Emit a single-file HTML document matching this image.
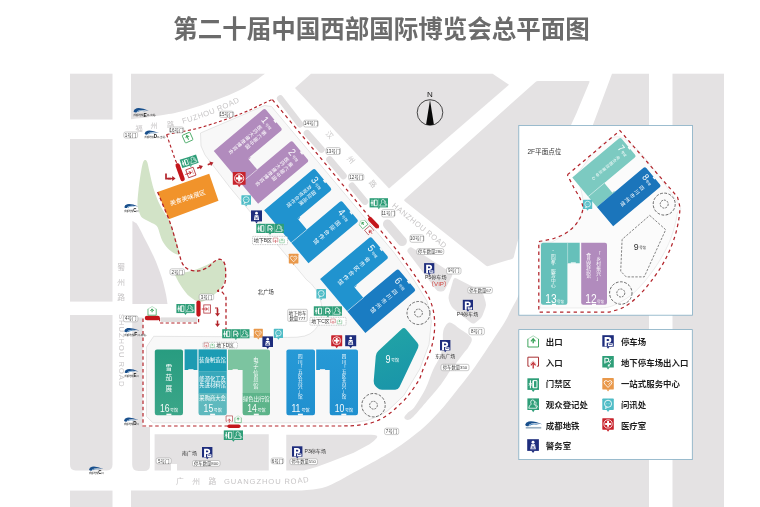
<!DOCTYPE html>
<html lang="zh"><head><meta charset="utf-8"><title>第二十届中国西部国际博览会总平面图</title>
<style>
html,body{margin:0;padding:0;background:#fff;}
body{width:760px;height:507px;overflow:hidden;font-family:"Liberation Sans","Noto Sans CJK SC",sans-serif;}
svg{display:block;will-change:transform}
svg text{font-family:"Liberation Sans","Noto Sans CJK SC",sans-serif;}
</style></head><body>
<svg width="760" height="507" viewBox="0 0 760 507">
<rect x="0.0" y="0.0" width="760.0" height="507.0" rx="0" fill="#fff" />
<rect x="70.0" y="73.7" width="42.5" height="45.8" rx="0" fill="#e4e2e3" />
<rect x="70.0" y="139.0" width="42.5" height="162.6" rx="0" fill="#e4e2e3" />
<path d="M70 315H112.5V464.8Q112.5 470.4 106.9 470.4H75.6Q70 470.4 70 464.8Z" fill="#e4e2e3" stroke="none" stroke-width="1" />
<rect x="70.0" y="490.6" width="42.5" height="20.0" rx="0" fill="#e4e2e3" />
<path d="M131 73.7H265C263.3 74.9 259.2 78.3 255.0 81.0C250.8 83.7 246.7 86.8 240.0 90.0C233.3 93.2 224.5 97.0 215.0 100.5C205.5 104.0 192.2 108.5 183.0 111.0C173.8 113.5 168.7 114.1 160.0 115.5C151.3 116.9 135.8 118.6 131.0 119.2Z" fill="#e4e2e3" stroke="none" stroke-width="1" />
<polygon points="311.0,73.7 492.6,73.7 509.0,84.7 389.0,188.5 295.0,88.0" fill="#e4e2e3" />
<path d="M404.8 201.2Q403.6 200.3 404.7 199.3L535.5 81.9Q536.6 80.9 538.1 80.9L588.5 80.9Q590.0 80.9 589.4 82.3L578.0 109.6Q577.4 111.0 576.8 112.4L518.2 240.1Q517.6 241.5 517.2 243.0L513.8 257.1Q513.4 258.6 512.0 259.0L488.4 266.1Q487.0 266.5 485.8 265.6Z" fill="#e4e2e3" stroke="none" stroke-width="1" />
<path d="M612 73.7H649V508H131V490.6H300C303.7 490.2 315.3 489.7 322.0 488.0C328.7 486.3 334.7 482.8 340.0 480.2C345.3 477.6 347.5 476.0 353.7 472.6C359.9 469.2 370.8 463.4 377.4 459.7C384.0 456.0 387.9 453.7 393.2 450.3C398.5 446.9 403.8 443.1 409.0 439.2C414.2 435.2 418.9 432.0 424.7 426.6C430.4 421.2 437.8 413.5 443.5 407.0C449.2 400.5 453.7 394.4 459.0 387.6C464.3 380.8 469.5 374.3 475.2 366.4C480.9 358.5 488.1 347.3 493.0 340.0C497.9 332.7 501.6 327.3 504.5 322.5C507.4 317.7 508.5 314.8 510.5 311.0C512.5 307.2 515.5 301.8 516.5 300.0L592.6 125.7Z" fill="#e4e2e3" stroke="none" stroke-width="1" />
<rect x="672.5" y="73.7" width="51.5" height="434.3" rx="0" fill="#e4e2e3" />
<path d="M132.4 221.0C132.8 221.2 134.1 221.8 135.0 222.5C135.9 223.2 136.1 222.4 137.9 225.5C139.7 228.6 143.2 235.6 145.8 240.8C148.4 246.0 151.7 252.2 153.7 256.6C155.7 261.0 156.7 263.6 158.0 267.0C159.3 270.4 160.5 273.7 161.6 277.0C162.7 280.3 163.5 283.8 164.3 287.0C165.1 290.2 165.8 293.2 166.3 296.0C166.8 298.8 167.3 302.7 167.5 304.0L132.4 304Z" fill="#e3dfe2" stroke="none" stroke-width="1" />
<path d="M132.2 317.4H142.6V427H150V465Q150 471 144 471H138.4Q132.2 471 132.2 464.8Z" fill="#e4e2e3" stroke="none" stroke-width="1" />
<rect x="160.8" y="317.4" width="36.5" height="4.6" rx="0" fill="#e0dede" />
<path d="M154.6 434.3H268.75V470.5H177V463.9H171V470.5H154.6Z" fill="#e4e2e3" stroke="none" stroke-width="1" />
<path d="M286.25 434.8H371Q379 434.9 376.9 437.8Q373.5 442 369.5 444.2L353.7 452.8L330 462Q318 467 304 470.5H286.25Z" fill="#e4e2e3" stroke="none" stroke-width="1" />
<path d="M449.5 322.5C452.3 322.2 456.3 326.4 460.0 329.0C463.7 331.6 470.1 335.0 471.5 338.0C472.9 341.0 469.8 344.5 468.5 347.0C467.2 349.5 465.5 350.7 463.6 353.2C461.7 355.7 459.2 359.2 457.0 362.0C454.8 364.8 453.2 366.4 450.6 370.0C448.0 373.6 445.2 378.8 441.3 383.9C437.4 389.0 432.0 395.2 427.4 400.6C422.8 406.1 416.7 413.4 413.5 416.6C410.3 419.8 409.5 419.8 408.0 420.0C406.5 420.2 404.3 418.9 404.3 417.6C404.3 416.4 406.3 414.3 408.0 412.5C409.7 410.7 411.6 411.0 414.5 407.0C417.4 403.0 422.5 394.7 425.6 388.5C428.7 382.3 430.6 375.2 433.0 370.0C435.4 364.8 438.2 361.2 439.8 357.0C441.4 352.8 442.2 349.3 442.8 345.0C443.4 340.7 442.2 334.8 443.3 331.0C444.4 327.2 446.7 322.8 449.5 322.5Z" fill="#e4e2e3" stroke="none" stroke-width="1" />
<path d="M408.0 252.5Q406.5 250.5 408.3 248.7L408.7 248.3Q410.5 246.5 412.6 247.9L450.9 272.6Q453.0 274.0 451.9 276.2L445.1 289.3Q444.0 291.5 441.5 291.5L440.0 291.5Q437.5 291.5 436.0 289.5Z" fill="#e4e2e3" stroke="none" stroke-width="1" />
<path d="M453.2 279.9Q454.0 277.0 456.7 278.4L479.8 290.2Q482.5 291.6 483.4 294.5L485.6 302.1Q486.5 305.0 485.4 307.8L482.6 315.2Q481.5 318.0 479.1 319.8L475.4 322.7Q473.0 324.5 470.7 322.6L453.9 308.9Q451.6 307.0 450.4 304.2L449.2 301.3Q448.0 298.5 448.8 295.6Z" fill="#e4e2e3" stroke="none" stroke-width="1" />
<path d="M200.5 133.0L264.5 105.5L271.5 106.5L394.0 252.5L414.0 280.0L427.0 301.0L431.4 321.0L429.0 344.5L419.8 369.0L403.8 395.5L388.0 410.5L379.0 416.0L367.0 420.5L354.0 422.5L340.0 422.8L153.0 422.8L146.5 416.5L146.5 347.0L153.7 336.3L250.0 336.8L287.4 337.4L297.0 337.2L304.7 336.0L310.0 333.8L314.2 330.5L318.2 325.5L320.5 319.5L321.8 311.5L321.3 303.7L319.3 296.0L315.8 289.5L311.5 284.0L306.3 279.5L230.0 187.5L205.0 155.0L201.0 146.0Z" fill="#f8f8f8" stroke="#cfcfcf" stroke-width="0.5" />
<path d="M145.2 160.0C144.5 160.0 143.7 160.5 143.0 162.5C142.3 164.5 141.8 167.4 141.0 172.0C140.2 176.6 139.1 184.5 138.5 190.0C137.9 195.5 137.3 201.2 137.5 205.0C137.7 208.8 138.7 210.8 139.5 213.0C140.3 215.2 140.8 216.5 142.6 218.0C144.3 219.5 147.6 220.7 150.0 222.0C152.4 223.3 155.1 223.9 156.8 226.0C158.5 228.1 159.0 231.8 160.0 234.5C161.0 237.2 161.4 239.4 163.0 242.0C164.6 244.6 167.1 247.9 169.5 250.0C171.9 252.1 175.7 254.1 177.4 254.6C179.1 255.1 179.7 255.4 179.5 253.0C179.3 250.6 177.6 245.1 176.0 240.0C174.4 234.9 172.7 228.3 170.0 222.5C167.3 216.7 162.7 210.4 160.0 205.0C157.3 199.6 155.8 195.5 154.0 190.0C152.2 184.5 150.6 176.6 149.5 172.0C148.4 167.4 148.1 164.5 147.4 162.5C146.7 160.5 145.9 160.0 145.2 160.0Z" fill="#d2e3c7" stroke="none" stroke-width="1" />
<path d="M175.0 272.0C173.2 272.8 174.8 274.4 176.0 277.0C177.2 279.6 179.7 284.1 182.0 287.4C184.3 290.7 187.0 294.4 190.0 296.8C193.0 299.2 196.5 302.0 200.0 302.0C203.5 302.0 207.5 299.3 211.0 297.0C214.5 294.7 218.6 291.2 221.0 288.0C223.4 284.8 224.8 281.8 225.5 278.0C226.2 274.2 225.9 268.1 225.0 265.0C224.1 261.9 222.0 260.0 220.0 259.5C218.0 259.0 216.3 260.6 213.0 262.0C209.7 263.4 204.3 266.3 200.0 268.0C195.7 269.7 191.2 271.3 187.0 272.0C182.8 272.7 176.8 271.2 175.0 272.0Z" fill="#d2e3c7" stroke="none" stroke-width="1" />
<polygon points="157.6,191.9 209.2,173.8 218.5,200.8 168.8,219.3" fill="#f1932b" />
<text transform="translate(188.30 199.90) rotate(-18.4)" font-size="6.2" fill="#fff" text-anchor="middle">美食美味展区</text>
<g transform="translate(264.7 108.2) rotate(50)">
<path d="M2.4 0H25.400000000000002Q27.8 0 27.8 2.4V45.2H42.2V66.5H0V2.4Q0 0 2.4 0Z" fill="#b18bbd"/>
<path d="M42.2 2.4Q42.2 0 44.6 0H66.6Q69.0 0 69.0 2.4V66.5H42.2Z" fill="#b18bbd"/>
<path d="M42.2 45.2V66.5" stroke="#fff" stroke-width="0.45" opacity="0.85"/>
<rect x="15.0" y="-0.3" width="3.4" height="1.6" fill="#f8f8f8"/><rect x="56.2" y="-0.3" width="3.4" height="1.6" fill="#f8f8f8"/>
<rect x="27.900000000000002" y="42.6" width="0.9" height="2.7" fill="#b18bbd"/>
<text transform="translate(6.77 10.8) scale(0.88 1)" font-size="10.4" fill="#fff" opacity="0.96">1</text>
<text x="12.57" y="10.4" font-size="3.6" fill="#fff">号馆</text>
<text transform="translate(18.35 14.00)" font-size="4.9" fill="#fff" text-anchor="middle"><tspan x="0" y="4.31">第</tspan><tspan x="0" dy="5.3">六</tspan><tspan x="0" dy="5.3">届</tspan><tspan x="0" dy="5.3">中</tspan><tspan x="0" dy="5.3">国</tspan></text>
<text transform="translate(11.68 14.00)" font-size="4.9" fill="#fff" text-anchor="middle"><tspan x="0" y="4.31">医</tspan><tspan x="0" dy="5.3">药</tspan><tspan x="0" dy="5.3">大</tspan><tspan x="0" dy="5.3">健</tspan><tspan x="0" dy="5.3">康</tspan><tspan x="0" dy="5.3">博</tspan><tspan x="0" dy="5.3">览</tspan><tspan x="0" dy="5.3">会</tspan></text>
<text transform="translate(48.64 10.8) scale(0.88 1)" font-size="10.4" fill="#fff" opacity="0.96">2</text>
<text x="54.44" y="10.4" font-size="3.6" fill="#fff">号馆</text>
<text transform="translate(59.89 14.00)" font-size="4.9" fill="#fff" text-anchor="middle"><tspan x="0" y="4.31">第</tspan><tspan x="0" dy="5.3">六</tspan><tspan x="0" dy="5.3">届</tspan><tspan x="0" dy="5.3">中</tspan><tspan x="0" dy="5.3">国</tspan></text>
<text transform="translate(53.46 14.00)" font-size="4.9" fill="#fff" text-anchor="middle"><tspan x="0" y="4.31">医</tspan><tspan x="0" dy="5.3">药</tspan><tspan x="0" dy="5.3">大</tspan><tspan x="0" dy="5.3">健</tspan><tspan x="0" dy="5.3">康</tspan><tspan x="0" dy="5.3">博</tspan><tspan x="0" dy="5.3">览</tspan><tspan x="0" dy="5.3">会</tspan></text>
</g>
<g transform="translate(314.3 168.2) rotate(50)">
<path d="M2.4 0H25.400000000000002Q27.8 0 27.8 2.4V45.2H42.2V65.5H0V2.4Q0 0 2.4 0Z" fill="#2093cf"/>
<path d="M42.2 2.4Q42.2 0 44.6 0H66.6Q69.0 0 69.0 2.4V65.5H42.2Z" fill="#2093cf"/>
<path d="M42.2 45.2V65.5" stroke="#fff" stroke-width="0.45" opacity="0.85"/>
<rect x="15.0" y="-0.3" width="3.4" height="1.6" fill="#f8f8f8"/><rect x="56.2" y="-0.3" width="3.4" height="1.6" fill="#f8f8f8"/>
<rect x="27.900000000000002" y="42.6" width="0.9" height="2.7" fill="#2093cf"/>
<text transform="translate(6.77 10.8) scale(0.88 1)" font-size="10.4" fill="#fff" opacity="0.96">3</text>
<text x="12.57" y="10.4" font-size="3.6" fill="#fff">号馆</text>
<text transform="translate(18.35 14.00)" font-size="4.9" fill="#fff" text-anchor="middle"><tspan x="0" y="4.31">国</tspan><tspan x="0" dy="5.3">际</tspan><tspan x="0" dy="5.3">品</tspan><tspan x="0" dy="5.3">牌</tspan></text>
<text transform="translate(11.68 14.00)" font-size="4.9" fill="#fff" text-anchor="middle"><tspan x="0" y="4.31">及</tspan><tspan x="0" dy="5.3">投</tspan><tspan x="0" dy="5.3">资</tspan><tspan x="0" dy="5.3">合</tspan><tspan x="0" dy="5.3">作</tspan><tspan x="0" dy="5.3">馆</tspan></text>
<text transform="translate(48.64 10.8) scale(0.88 1)" font-size="10.4" fill="#fff" opacity="0.96">4</text>
<text x="54.44" y="10.4" font-size="3.6" fill="#fff">号馆</text>
<text transform="translate(57.21 14.60)" font-size="5.6" fill="#fff" text-anchor="middle"><tspan x="0" y="4.93">国</tspan><tspan x="0" dy="7">际</tspan><tspan x="0" dy="7">合</tspan><tspan x="0" dy="7">作</tspan><tspan x="0" dy="7">馆</tspan></text>
</g>
<g transform="translate(370.8 236.4) rotate(50)">
<path d="M2.4 0H25.400000000000002Q27.8 0 27.8 2.4V45.2H42.2V66.2H0V2.4Q0 0 2.4 0Z" fill="#2093cf"/>
<path d="M42.2 2.4Q42.2 0 44.6 0H68.0Q70.4 0 70.4 2.4V66.2H42.2Z" fill="#1a7cc2"/>
<path d="M42.2 45.2V66.2" stroke="#fff" stroke-width="0.45" opacity="0.85"/>
<rect x="15.0" y="-0.3" width="3.4" height="1.6" fill="#f8f8f8"/><rect x="57.60000000000001" y="-0.3" width="3.4" height="1.6" fill="#f8f8f8"/>
<rect x="27.900000000000002" y="42.6" width="0.9" height="2.7" fill="#2093cf"/>
<text transform="translate(6.77 10.8) scale(0.88 1)" font-size="10.4" fill="#fff" opacity="0.96">5</text>
<text x="12.57" y="10.4" font-size="3.6" fill="#fff">号馆</text>
<text transform="translate(15.57 14.60)" font-size="5.6" fill="#fff" text-anchor="middle"><tspan x="0" y="4.93">省</tspan><tspan x="0" dy="7">市</tspan><tspan x="0" dy="7">区</tspan><tspan x="0" dy="7">合</tspan><tspan x="0" dy="7">作</tspan><tspan x="0" dy="7">馆</tspan></text>
<text transform="translate(49.11 10.8) scale(0.88 1)" font-size="10.4" fill="#fff" opacity="0.96">6</text>
<text x="54.91" y="10.4" font-size="3.6" fill="#fff">号馆</text>
<text transform="translate(57.99 14.60)" font-size="5.6" fill="#fff" text-anchor="middle"><tspan x="0" y="4.93">四</tspan><tspan x="0" dy="7">川</tspan><tspan x="0" dy="7">市</tspan><tspan x="0" dy="7">州</tspan><tspan x="0" dy="7">馆</tspan></text>
</g>
<defs><linearGradient id="g9" x1="0" y1="0" x2="0.3" y2="1"><stop offset="0" stop-color="#22a5a5"/><stop offset="1" stop-color="#1a96a9"/></linearGradient><linearGradient id="g16" x1="0" y1="0" x2="0" y2="1"><stop offset="0" stop-color="#289c80"/><stop offset="1" stop-color="#3ba688"/></linearGradient><linearGradient id="g11" x1="0" y1="0" x2="0" y2="1"><stop offset="0" stop-color="#2699d6"/><stop offset="1" stop-color="#2090cf"/></linearGradient></defs>
<path d="M401.8 329.0Q404.0 327.0 406.0 329.3L417.4 342.7Q419.4 345.0 418.1 347.7L399.5 387.0Q398.2 389.7 395.2 389.7L382.0 389.7Q379.0 389.7 376.9 387.5L375.6 386.2Q373.5 384.0 373.7 381.0L375.8 356.0Q376.0 353.0 378.2 351.0Z" fill="url(#g9)" stroke="none" stroke-width="1" />
<path d="M157.0 349.4H180.8Q183 349.4 183 351.59999999999997V413.1Q183 415.3 180.8 415.3H157.0Q154.8 415.3 154.8 413.1V351.59999999999997Q154.8 349.4 157.0 349.4Z" fill="url(#g16)" stroke="none" stroke-width="1" />
<rect x="184.6" y="349.4" width="12.8" height="20.6" rx="0" fill="#1d9bb2" />
<rect x="198.5" y="349.4" width="28.3" height="22.0" rx="0" fill="#1b9cb4" />
<rect x="198.5" y="371.2" width="28.3" height="22.6" rx="0" fill="#38a8bb" />
<path d="M198.5 393.4H226.8V413.1Q226.8 415.3 224.6 415.3H200.7Q198.5 415.3 198.5 413.1Z" fill="#5fb9be" stroke="none" stroke-width="1" />
<path d="M228 349.4H267.8Q270 349.4 270 351.59999999999997V393.2H242.6V370H228Z" fill="#7cc4a0" stroke="none" stroke-width="1" />
<path d="M242.6 393.1H270V413.1Q270 415.3 267.8 415.3H244.8Q242.6 415.3 242.6 413.1Z" fill="#5db48a" stroke="none" stroke-width="1" />
<path d="M288.59999999999997 349.4H312.8Q315 349.4 315 351.59999999999997V413.1Q315 415.3 312.8 415.3H288.59999999999997Q286.4 415.3 286.4 413.1V351.59999999999997Q286.4 349.4 288.59999999999997 349.4Z" fill="url(#g11)" stroke="none" stroke-width="1" />
<path d="M316.2 349.4H355.8Q358 349.4 358 351.59999999999997V413.1Q358 415.3 355.8 415.3H331.9Q329.7 415.3 329.7 413.1V370H316.2Z" fill="url(#g11)" stroke="none" stroke-width="1" />
<rect x="166.4" y="413.7" width="5.0" height="1.8" rx="0" fill="#f8f8f8" />
<rect x="210.1" y="413.7" width="5.0" height="1.8" rx="0" fill="#f8f8f8" />
<rect x="253.8" y="413.7" width="5.0" height="1.8" rx="0" fill="#f8f8f8" />
<rect x="297.9" y="413.7" width="5.0" height="1.8" rx="0" fill="#f8f8f8" />
<rect x="341.3" y="413.7" width="5.0" height="1.8" rx="0" fill="#f8f8f8" />
<rect x="188.3" y="369.2" width="5.2" height="1.3" rx="0" fill="#f8f8f8" />
<rect x="232.6" y="369.2" width="5.2" height="1.3" rx="0" fill="#f8f8f8" />
<rect x="319.9" y="369.2" width="5.2" height="1.3" rx="0" fill="#f8f8f8" />
<circle cx="373.5" cy="405.2" r="11.7" fill="none" stroke="#3a3a3a" stroke-width="0.75" stroke-dasharray="2.8 1.5"/><circle cx="373.5" cy="405.2" r="3.9" fill="none" stroke="#3a3a3a" stroke-width="0.7" stroke-dasharray="2 1"/>
<circle cx="418.5" cy="313" r="11.5" fill="none" stroke="#3a3a3a" stroke-width="0.75" stroke-dasharray="2.8 1.5"/><circle cx="418.5" cy="313" r="3.9" fill="none" stroke="#3a3a3a" stroke-width="0.7" stroke-dasharray="2 1"/>
<text transform="translate(168.90 364.30)" font-size="6.6" fill="#fff" text-anchor="middle"><tspan x="0" y="5.81">雪</tspan><tspan x="0" dy="10.3">茄</tspan><tspan x="0" dy="10.3">展</tspan></text>
<text transform="translate(159.89 412) scale(0.84 1)" font-size="10.3" fill="#fff" opacity="0.96">16</text>
<text x="170.01" y="411.7" font-size="4" fill="#fff">号馆</text>
<text x="212.6" y="362.4" font-size="5.3" fill="#fff" text-anchor="middle">装备制造馆</text>
<text x="212.6" y="380.6" font-size="5.3" fill="#fff" text-anchor="middle">能源化工及</text>
<text x="212.6" y="386.9" font-size="5.3" fill="#fff" text-anchor="middle">先进材料馆</text>
<text x="212.6" y="400.3" font-size="5.3" fill="#fff" text-anchor="middle">采购商大会</text>
<text transform="translate(203.59 412) scale(0.84 1)" font-size="10.3" fill="#fff" opacity="0.96">15</text>
<text x="213.71" y="411.7" font-size="4" fill="#fff">号馆</text>
<text transform="translate(255.80 357.00)" font-size="5.2" fill="#fff" text-anchor="middle"><tspan x="0" y="4.58">电</tspan><tspan x="0" dy="6.5">子</tspan><tspan x="0" dy="6.5">信</tspan><tspan x="0" dy="6.5">息</tspan><tspan x="0" dy="6.5">馆</tspan></text>
<text x="256.3" y="400.6" font-size="5.3" fill="#fff" text-anchor="middle">绿色出行馆</text>
<text transform="translate(247.29 412) scale(0.84 1)" font-size="10.3" fill="#fff" opacity="0.96">14</text>
<text x="257.41" y="411.7" font-size="4" fill="#fff">号馆</text>
<text transform="translate(300.30 353.60)" font-size="4.6" fill="#fff" text-anchor="middle"><tspan x="0" y="4.05">四</tspan><tspan x="0" dy="5.05">川</tspan><tspan x="0" dy="5.05">「</tspan><tspan x="0" dy="5.05">五</tspan><tspan x="0" dy="5.05">区</tspan><tspan x="0" dy="5.05">共</tspan><tspan x="0" dy="5.05">兴</tspan><tspan x="0" dy="5.05">」</tspan><tspan x="0" dy="5.05">馆</tspan></text>
<text transform="translate(344.00 353.60)" font-size="4.6" fill="#fff" text-anchor="middle"><tspan x="0" y="4.05">四</tspan><tspan x="0" dy="5.05">川</tspan><tspan x="0" dy="5.05">「</tspan><tspan x="0" dy="5.05">五</tspan><tspan x="0" dy="5.05">区</tspan><tspan x="0" dy="5.05">共</tspan><tspan x="0" dy="5.05">兴</tspan><tspan x="0" dy="5.05">」</tspan><tspan x="0" dy="5.05">馆</tspan></text>
<text transform="translate(291.39 412) scale(0.84 1)" font-size="10.3" fill="#fff" opacity="0.96">11</text>
<text x="301.51" y="411.7" font-size="4" fill="#fff">号馆</text>
<text transform="translate(334.79 412) scale(0.84 1)" font-size="10.3" fill="#fff" opacity="0.96">10</text>
<text x="344.91" y="411.7" font-size="4" fill="#fff">号馆</text>
<text transform="translate(385.4 362.6) scale(0.85 1)" font-size="10.6" fill="#fff">9</text>
<text x="391" y="362.2" font-size="4" fill="#fff">号馆</text>
<path d="M280.2 98.6L300.0 124.2" stroke="#e1dfe0" stroke-width="6.6" stroke-linecap="round" fill="none"/>
<path d="M307.0 133.3L321.5 149.5" stroke="#e1dfe0" stroke-width="6.6" stroke-linecap="round" fill="none"/>
<path d="M329.5 159.5L343.5 176.0" stroke="#e1dfe0" stroke-width="6.6" stroke-linecap="round" fill="none"/>
<path d="M352.0 185.8L365.0 201.6" stroke="#e1dfe0" stroke-width="6.6" stroke-linecap="round" fill="none"/>
<path d="M387.6 224.2L402.2 241.4" stroke="#e1dfe0" stroke-width="9.4" stroke-linecap="round" fill="none"/>
<path d="M166.6 134.5C171.3 133.6 186.3 131.1 195.0 129.0C203.7 126.9 210.8 124.4 218.7 121.8C226.6 119.2 235.8 115.8 242.4 113.2C249.0 110.6 253.3 108.3 258.2 106.0C263.1 103.7 269.4 100.7 271.6 99.6" fill="none" stroke="#b3242b" stroke-width="1.15" stroke-dasharray="3 2.4"/>
<path d="M272.4 99.7L396.7 250.0C400.1 254.7 411.3 270.1 416.8 278.4C422.3 286.7 426.9 292.6 429.9 299.7C432.9 306.8 434.2 313.5 434.6 321.0C435.0 328.5 434.2 336.5 432.2 344.7C430.2 352.9 425.1 363.9 422.8 370.0C420.5 376.1 420.9 376.7 418.2 381.3C415.4 385.9 409.6 393.8 406.3 397.9C403.0 402.0 401.0 403.2 398.4 405.7C395.8 408.2 393.4 410.5 390.5 412.7C387.6 414.9 384.7 417.2 381.0 419.0C377.3 420.8 372.9 422.6 368.4 423.7C363.9 424.8 356.4 425.4 354.0 425.7" fill="none" stroke="#b3242b" stroke-width="1.25" stroke-dasharray="3.4 3.4"/>
<path d="M354 425.7Q347 426 340 426H143V318" fill="none" stroke="#b3242b" stroke-width="1.2" stroke-dasharray="3.5 2.8"/>
<path d="M166.6 134.5L175.3 160.0L177.0 163.5" fill="none" stroke="#b3242b" stroke-width="1.15" stroke-dasharray="3 2.4"/>
<path d="M157.6 192.0L168.8 219.0C169.4 220.8 171.3 226.1 172.5 230.0C173.7 233.9 174.8 238.3 176.0 242.5C177.2 246.7 178.4 251.5 179.5 255.0C180.6 258.5 181.2 261.5 182.5 263.8C183.8 266.0 185.0 267.5 187.5 268.8C190.0 270.0 194.2 271.2 197.5 271.0C200.8 270.8 204.6 269.2 207.5 267.5C210.4 265.8 212.8 262.3 215.0 261.0C217.2 259.7 219.3 258.8 221.0 259.5C222.7 260.2 224.2 261.6 225.0 265.0C225.8 268.4 225.9 276.2 225.5 280.0C225.1 283.8 223.8 285.7 222.5 287.5C221.2 289.3 217.6 290.2 217.5 291.0C217.4 291.8 220.6 290.9 222.0 292.0C223.4 293.1 225.3 296.6 226.0 297.5V329.4" fill="none" stroke="#b3242b" stroke-width="1.3" stroke-dasharray="3.6 2.6"/>
<path d="M159.5 318V323H198.6V317" fill="none" stroke="#b3242b" stroke-width="1.2" stroke-dasharray="3.2 2.4"/>
<path d="M177.7 165.4L182.6 178.9" stroke="#c4161c" stroke-width="4.4" stroke-linecap="round" fill="none"/>
<path d="M147.0 318.1L157.7 318.1" stroke="#c4161c" stroke-width="4.5" stroke-linecap="round" fill="none"/>
<path d="M198.5 302.6L198.5 314.6" stroke="#c4161c" stroke-width="4.2" stroke-linecap="round" fill="none"/>
<path d="M370.2 219.2L376.9 226.2" stroke="#c4161c" stroke-width="4.4" stroke-linecap="round" fill="none"/>
<path d="M229.2 426.2L238.7 426.2" stroke="#c4161c" stroke-width="3.6" stroke-linecap="round" fill="none"/>
<g transform="translate(173 178.6) rotate(0)"><path d="M-5 0H0" stroke="#b3242b" stroke-width="1.5" fill="none"/><path d="M-0.8 -2.5L2.6 0L-0.8 2.5Z" fill="#b3242b"/></g>
<path d="M166 173.4V178.6H171" fill="none" stroke="#b3242b" stroke-width="1.7" />
<g transform="translate(200.5 167) rotate(-20)"><path d="M-3.5 0H0" stroke="#b3242b" stroke-width="1.5" fill="none"/><path d="M-0.8 -2.5L2.6 0L-0.8 2.5Z" fill="#b3242b"/></g>
<g transform="translate(211 163.5) rotate(-20)"><path d="M-3.5 0H0" stroke="#b3242b" stroke-width="1.5" fill="none"/><path d="M-0.8 -2.5L2.6 0L-0.8 2.5Z" fill="#b3242b"/></g>
<g transform="translate(217.5 314) rotate(90)"><path d="M-5 0H0" stroke="#b3242b" stroke-width="1.5" fill="none"/><path d="M-0.8 -2.5L2.6 0L-0.8 2.5Z" fill="#b3242b"/></g>
<path d="M215 308H217.5V312" fill="none" stroke="#b3242b" stroke-width="1.2" />
<g transform="translate(217.5 324.5) rotate(90)"><path d="M-4 0H0" stroke="#b3242b" stroke-width="1.5" fill="none"/><path d="M-0.8 -2.5L2.6 0L-0.8 2.5Z" fill="#b3242b"/></g>
<text x="139" y="130.6" font-size="7.2" fill="#c7c5c6" text-anchor="middle">福</text>
<text x="154" y="128.2" font-size="7.2" fill="#c7c5c6" text-anchor="middle">州</text>
<text x="170.5" y="127.4" font-size="7.2" fill="#c7c5c6" text-anchor="middle">路</text>
<path id="fz" d="M183 123.8Q215 114.5 242 100.5" fill="none"/>
<text font-size="7.6" fill="#c7c5c6" letter-spacing="0.5"><textPath href="#fz">FUZHOU ROAD</textPath></text>
<text transform="translate(327.60 136.50) rotate(50)" font-size="7.4" fill="#c7c5c6" text-anchor="middle">汉</text>
<text transform="translate(349.00 161.30) rotate(50)" font-size="7.4" fill="#c7c5c6" text-anchor="middle">州</text>
<text transform="translate(371.00 185.60) rotate(50)" font-size="7.4" fill="#c7c5c6" text-anchor="middle">路</text>
<text x="391.6" y="206.5" font-size="7.6" fill="#c7c5c6" text-anchor="start" font-weight="normal" letter-spacing="0.5" transform="rotate(38.8 391.6 206.5)" >HANZHOU ROAD</text>
<text x="121.25" y="270" font-size="7.8" fill="#c7c5c6" text-anchor="middle">蜀</text>
<text x="121.25" y="285" font-size="7.8" fill="#c7c5c6" text-anchor="middle">州</text>
<text x="121.25" y="300" font-size="7.8" fill="#c7c5c6" text-anchor="middle">路</text>
<text x="118.6" y="314" font-size="7.6" fill="#c7c5c6" text-anchor="start" font-weight="normal" letter-spacing="0.98" transform="rotate(90 118.6 314)" >SHUZHOU ROAD</text>
<text x="180" y="483.6" font-size="7.8" fill="#c7c5c6" text-anchor="middle">广</text>
<text x="196.25" y="483.6" font-size="7.8" fill="#c7c5c6" text-anchor="middle">州</text>
<text x="212.5" y="483.6" font-size="7.8" fill="#c7c5c6" text-anchor="middle">路</text>
<path id="gz" d="M224 484H285Q300 484 318 480" fill="none"/>
<text font-size="7.6" fill="#c7c5c6" letter-spacing="0.9"><textPath href="#gz">GUANGZHOU ROAD</textPath></text>
<rect x="123.8" y="132.0" width="13.8" height="6.0" rx="1.8" fill="#fff" stroke="#8d8d8d" stroke-width="0.45"/>
<text x="130.62" y="136.62" font-size="4.5" fill="#3c3c3c" text-anchor="middle">1号门</text>
<rect x="169.5" y="127.0" width="14.2" height="5.8" rx="1.8" fill="#fff" stroke="#8d8d8d" stroke-width="0.45"/>
<text x="176.62" y="131.52" font-size="4.5" fill="#3c3c3c" text-anchor="middle">16号门</text>
<rect x="219.5" y="111.2" width="14.2" height="6.2" rx="1.8" fill="#fff" stroke="#8d8d8d" stroke-width="0.45"/>
<text x="226.62" y="116" font-size="4.5" fill="#3c3c3c" text-anchor="middle">15号门</text>
<rect x="303.6" y="120.2" width="14.6" height="6.8" rx="1.8" fill="#fff" stroke="#8d8d8d" stroke-width="0.45"/>
<text x="310.9" y="125.22" font-size="4.5" fill="#3c3c3c" text-anchor="middle">14号门</text>
<rect x="326.0" y="147.6" width="14.5" height="6.9" rx="1.8" fill="#fff" stroke="#8d8d8d" stroke-width="0.45"/>
<text x="333.25" y="152.67" font-size="4.5" fill="#3c3c3c" text-anchor="middle">13号门</text>
<rect x="348.6" y="174.0" width="15.2" height="6.3" rx="1.8" fill="#fff" stroke="#8d8d8d" stroke-width="0.45"/>
<text x="356.2" y="178.77" font-size="4.5" fill="#3c3c3c" text-anchor="middle">12号门</text>
<rect x="381.6" y="209.6" width="13.3" height="7.4" rx="1.8" fill="#fff" stroke="#8d8d8d" stroke-width="0.45"/>
<text x="388.25" y="214.92" font-size="4.5" fill="#3c3c3c" text-anchor="middle">11号门</text>
<rect x="410.0" y="234.9" width="13.8" height="7.4" rx="1.8" fill="#fff" stroke="#8d8d8d" stroke-width="0.45"/>
<text x="416.9" y="240.22" font-size="4.5" fill="#3c3c3c" text-anchor="middle">10号门</text>
<rect x="416.8" y="248.6" width="27.0" height="5.9" rx="1.8" fill="#fff" stroke="#8d8d8d" stroke-width="0.45"/>
<text x="430.3" y="253.1" font-size="4.3" fill="#3c3c3c" text-anchor="middle">停车数量280</text>
<rect x="446.5" y="267.6" width="14.5" height="6.4" rx="1.8" fill="#fff" stroke="#8d8d8d" stroke-width="0.45"/>
<text x="453.75" y="272.42" font-size="4.5" fill="#3c3c3c" text-anchor="middle">9号门</text>
<rect x="467.9" y="287.3" width="24.5" height="6.0" rx="1.8" fill="#fff" stroke="#8d8d8d" stroke-width="0.45"/>
<text x="480.15" y="291.85" font-size="4.3" fill="#3c3c3c" text-anchor="middle">停车数量67</text>
<rect x="469.0" y="327.7" width="15.4" height="7.1" rx="1.8" fill="#fff" stroke="#8d8d8d" stroke-width="0.45"/>
<text x="476.7" y="332.87" font-size="4.5" fill="#3c3c3c" text-anchor="middle">8号门</text>
<rect x="441.0" y="364.3" width="28.0" height="6.4" rx="1.8" fill="#fff" stroke="#8d8d8d" stroke-width="0.45"/>
<text x="455" y="369.05" font-size="4.3" fill="#3c3c3c" text-anchor="middle">停车数量350</text>
<rect x="384.5" y="428.2" width="14.2" height="6.4" rx="1.8" fill="#fff" stroke="#8d8d8d" stroke-width="0.45"/>
<text x="391.6" y="433.02" font-size="4.5" fill="#3c3c3c" text-anchor="middle">7号门</text>
<rect x="271.2" y="458.0" width="12.5" height="5.8" rx="1.8" fill="#fff" stroke="#8d8d8d" stroke-width="0.45"/>
<text x="277.5" y="462.5" font-size="4.5" fill="#3c3c3c" text-anchor="middle">6号门</text>
<rect x="290.0" y="458.8" width="27.5" height="5.8" rx="1.8" fill="#fff" stroke="#8d8d8d" stroke-width="0.45"/>
<text x="303.75" y="463.17" font-size="4.3" fill="#3c3c3c" text-anchor="middle">停车数量550</text>
<rect x="156.2" y="458.0" width="15.0" height="5.8" rx="1.8" fill="#fff" stroke="#8d8d8d" stroke-width="0.45"/>
<text x="163.75" y="462.5" font-size="4.5" fill="#3c3c3c" text-anchor="middle">5号门</text>
<rect x="192.5" y="460.5" width="27.5" height="5.8" rx="1.8" fill="#fff" stroke="#8d8d8d" stroke-width="0.45"/>
<text x="206.25" y="464.92" font-size="4.3" fill="#3c3c3c" text-anchor="middle">停车数量800</text>
<rect x="123.4" y="315.8" width="14.5" height="6.0" rx="1.8" fill="#fff" stroke="#8d8d8d" stroke-width="0.45"/>
<text x="130.65" y="320.42" font-size="4.5" fill="#3c3c3c" text-anchor="middle">4号门</text>
<rect x="199.2" y="294.0" width="14.5" height="6.0" rx="1.8" fill="#fff" stroke="#8d8d8d" stroke-width="0.45"/>
<text x="206.45" y="298.62" font-size="4.5" fill="#3c3c3c" text-anchor="middle">3号门</text>
<rect x="170.0" y="268.8" width="14.5" height="6.2" rx="1.8" fill="#fff" stroke="#8d8d8d" stroke-width="0.45"/>
<text x="177.25" y="273.5" font-size="4.5" fill="#3c3c3c" text-anchor="middle">2号门</text>
<rect x="287.8" y="309.3" width="19.4" height="12.0" rx="1" fill="#fff" stroke="#8a8a8a" stroke-width="0.45"/>
<text x="297.5" y="314.6" font-size="4.4" fill="#333" text-anchor="middle">地下停车</text>
<text x="297.5" y="319.9" font-size="4.4" fill="#333" text-anchor="middle">数量777</text>
<rect x="252.5" y="236.4" width="35.0" height="8.2" rx="0.8" fill="#fff" stroke="#777" stroke-width="0.4" stroke-dasharray="1 0.7"/>
<text x="253.7" y="242.4" font-size="5" fill="#333">地下B区</text>
<g transform="translate(273.00 237.80) scale(0.4167)">
<path d="M2.2 9.8H0.5V0.5H11.5V9.8H9.8" fill="#fff" stroke="#a5282c" stroke-width="1"/>
<path d="M2.8 7.4L6 4.4L9.2 7.4" fill="none" stroke="#e08a8a" stroke-width="0.6"/>
<path d="M6 12.2V7" fill="none" stroke="#c0272d" stroke-width="1.3"/><path d="M3.5 9L6 6.2L8.5 9" fill="none" stroke="#c0272d" stroke-width="1.2"/>
</g>
<g transform="translate(279.50 237.80) scale(0.4167)">
<path d="M0.5 3.6V12H11.5V3.6" fill="#fff" stroke="#3aa35a" stroke-width="1"/>
<path d="M0.5 3.8L6 0.4L11.5 3.8" fill="#fff" stroke="#3aa35a" stroke-width="0.55" opacity="0.8"/>
<path d="M6 8.2V4.2" fill="none" stroke="#3aa35a" stroke-width="1.5"/><path d="M3.7 6.2L6 3.5L8.3 6.2" fill="none" stroke="#3aa35a" stroke-width="1.3"/>
</g>
<rect x="310.0" y="317.4" width="36.0" height="7.8" rx="0.8" fill="#fff" stroke="#777" stroke-width="0.4" stroke-dasharray="1 0.7"/>
<text x="311.2" y="323.2" font-size="5" fill="#333">地下C区</text>
<g transform="translate(330.50 318.80) scale(0.4167)">
<path d="M2.2 9.8H0.5V0.5H11.5V9.8H9.8" fill="#fff" stroke="#a5282c" stroke-width="1"/>
<path d="M2.8 7.4L6 4.4L9.2 7.4" fill="none" stroke="#e08a8a" stroke-width="0.6"/>
<path d="M6 12.2V7" fill="none" stroke="#c0272d" stroke-width="1.3"/><path d="M3.5 9L6 6.2L8.5 9" fill="none" stroke="#c0272d" stroke-width="1.2"/>
</g>
<g transform="translate(337.00 318.80) scale(0.4167)">
<path d="M0.5 3.6V12H11.5V3.6" fill="#fff" stroke="#3aa35a" stroke-width="1"/>
<path d="M0.5 3.8L6 0.4L11.5 3.8" fill="#fff" stroke="#3aa35a" stroke-width="0.55" opacity="0.8"/>
<path d="M6 8.2V4.2" fill="none" stroke="#3aa35a" stroke-width="1.5"/><path d="M3.7 6.2L6 3.5L8.3 6.2" fill="none" stroke="#3aa35a" stroke-width="1.3"/>
</g>
<rect x="203.0" y="342.3" width="34.5" height="5.6" rx="0.8" fill="#fff" stroke="#777" stroke-width="0.4" stroke-dasharray="1 0.7"/>
<g transform="translate(204.00 342.80) scale(0.3833)">
<path d="M2.2 9.8H0.5V0.5H11.5V9.8H9.8" fill="#fff" stroke="#a5282c" stroke-width="1"/>
<path d="M2.8 7.4L6 4.4L9.2 7.4" fill="none" stroke="#e08a8a" stroke-width="0.6"/>
<path d="M6 12.2V7" fill="none" stroke="#c0272d" stroke-width="1.3"/><path d="M3.5 9L6 6.2L8.5 9" fill="none" stroke="#c0272d" stroke-width="1.2"/>
</g>
<g transform="translate(210.00 342.80) scale(0.3833)">
<path d="M0.5 3.6V12H11.5V3.6" fill="#fff" stroke="#3aa35a" stroke-width="1"/>
<path d="M0.5 3.8L6 0.4L11.5 3.8" fill="#fff" stroke="#3aa35a" stroke-width="0.55" opacity="0.8"/>
<path d="M6 8.2V4.2" fill="none" stroke="#3aa35a" stroke-width="1.5"/><path d="M3.7 6.2L6 3.5L8.3 6.2" fill="none" stroke="#3aa35a" stroke-width="1.3"/>
</g>
<text x="216.2" y="347" font-size="4.8" fill="#333">地下D区</text>
<text x="265.8" y="294.1" font-size="5.3" fill="#333" text-anchor="middle">北广场</text>
<g transform="translate(133.50 108.20) scale(1.0000)">
<path d="M0 3.3Q0.4 0.8 3.2 0.1Q7.8 -0.8 15.4 2.6Q9.4 1.3 5.8 2Q3.4 2.5 3 4.3Q1 4.6 0 3.3Z" fill="#184f8c"/>
<path d="M3.4 3.6Q4.6 2.2 7.4 2.2Q10 2.2 12.6 3.2Q9.6 2.7 7.4 2.9Q5.2 3.1 4.4 3.9Z" fill="#3f7fb8"/>
</g>
<text x="133.5" y="116.4" font-size="2.5" fill="#333">成都地铁</text>
<text x="145.1" y="116.60000000000001" font-size="4.9" fill="#111" text-anchor="middle" font-weight="bold" >E</text>
<text x="146.8" y="116.4" font-size="2.5" fill="#333">口(出站)</text>
<g transform="translate(144.60 130.60) scale(0.9333)">
<path d="M0 3.3Q0.4 0.8 3.2 0.1Q7.8 -0.8 15.4 2.6Q9.4 1.3 5.8 2Q3.4 2.5 3 4.3Q1 4.6 0 3.3Z" fill="#184f8c"/>
<path d="M3.4 3.6Q4.6 2.2 7.4 2.2Q10 2.2 12.6 3.2Q9.6 2.7 7.4 2.9Q5.2 3.1 4.4 3.9Z" fill="#3f7fb8"/>
</g>
<text x="144.6" y="138.25" font-size="2.33" fill="#333">成都地铁</text>
<text x="155.42666666666665" y="138.44" font-size="4.57" fill="#111" text-anchor="middle" font-weight="bold" >D</text>
<text x="157.01" y="138.25" font-size="2.33" fill="#333">口(出站)</text>
<g transform="translate(124.30 204.20) scale(0.9000)">
<path d="M0 3.3Q0.4 0.8 3.2 0.1Q7.8 -0.8 15.4 2.6Q9.4 1.3 5.8 2Q3.4 2.5 3 4.3Q1 4.6 0 3.3Z" fill="#184f8c"/>
<path d="M3.4 3.6Q4.6 2.2 7.4 2.2Q10 2.2 12.6 3.2Q9.6 2.7 7.4 2.9Q5.2 3.1 4.4 3.9Z" fill="#3f7fb8"/>
</g>
<text x="124.3" y="211.58" font-size="2.25" fill="#333">成都地铁</text>
<text x="134.74" y="211.76" font-size="4.41" fill="#111" text-anchor="middle" font-weight="bold" >C</text>
<text x="136.27" y="211.58" font-size="2.25" fill="#333">口</text>
<g transform="translate(124.20 328.00) scale(1.0000)">
<path d="M0 3.3Q0.4 0.8 3.2 0.1Q7.8 -0.8 15.4 2.6Q9.4 1.3 5.8 2Q3.4 2.5 3 4.3Q1 4.6 0 3.3Z" fill="#184f8c"/>
<path d="M3.4 3.6Q4.6 2.2 7.4 2.2Q10 2.2 12.6 3.2Q9.6 2.7 7.4 2.9Q5.2 3.1 4.4 3.9Z" fill="#3f7fb8"/>
</g>
<text x="124.2" y="336.2" font-size="2.5" fill="#333">成都地铁</text>
<text x="135.8" y="336.4" font-size="4.9" fill="#111" text-anchor="middle" font-weight="bold" >F</text>
<text x="137.5" y="336.2" font-size="2.5" fill="#333">口(出站)</text>
<g transform="translate(124.60 369.20) scale(0.9000)">
<path d="M0 3.3Q0.4 0.8 3.2 0.1Q7.8 -0.8 15.4 2.6Q9.4 1.3 5.8 2Q3.4 2.5 3 4.3Q1 4.6 0 3.3Z" fill="#184f8c"/>
<path d="M3.4 3.6Q4.6 2.2 7.4 2.2Q10 2.2 12.6 3.2Q9.6 2.7 7.4 2.9Q5.2 3.1 4.4 3.9Z" fill="#3f7fb8"/>
</g>
<text x="124.6" y="376.58" font-size="2.25" fill="#333">成都地铁</text>
<text x="135.04" y="376.76" font-size="4.41" fill="#111" text-anchor="middle" font-weight="bold" >E</text>
<text x="136.57" y="376.58" font-size="2.25" fill="#333">口</text>
<g transform="translate(124.00 417.60) scale(0.9333)">
<path d="M0 3.3Q0.4 0.8 3.2 0.1Q7.8 -0.8 15.4 2.6Q9.4 1.3 5.8 2Q3.4 2.5 3 4.3Q1 4.6 0 3.3Z" fill="#184f8c"/>
<path d="M3.4 3.6Q4.6 2.2 7.4 2.2Q10 2.2 12.6 3.2Q9.6 2.7 7.4 2.9Q5.2 3.1 4.4 3.9Z" fill="#3f7fb8"/>
</g>
<text x="124" y="425.25" font-size="2.33" fill="#333">成都地铁</text>
<text x="134.82666666666665" y="425.44" font-size="4.57" fill="#111" text-anchor="middle" font-weight="bold" >D</text>
<text x="136.41" y="425.25" font-size="2.33" fill="#333">口</text>
<g transform="translate(89.00 466.60) scale(0.9333)">
<path d="M0 3.3Q0.4 0.8 3.2 0.1Q7.8 -0.8 15.4 2.6Q9.4 1.3 5.8 2Q3.4 2.5 3 4.3Q1 4.6 0 3.3Z" fill="#184f8c"/>
<path d="M3.4 3.6Q4.6 2.2 7.4 2.2Q10 2.2 12.6 3.2Q9.6 2.7 7.4 2.9Q5.2 3.1 4.4 3.9Z" fill="#3f7fb8"/>
</g>
<text x="89" y="474.25" font-size="2.33" fill="#333">成都地铁</text>
<text x="99.82666666666667" y="474.44" font-size="4.57" fill="#111" text-anchor="middle" font-weight="bold" >C</text>
<text x="101.41" y="474.25" font-size="2.33" fill="#333">口</text>
<g transform="translate(424.10 263.10) scale(0.8500)">
<rect x="0" y="0" width="12" height="12" fill="#1e2d7d"/>
<path d="M4.3 11.8L6 14.2L7.7 11.8Z" fill="#1e2d7d"/>
<path d="M2.4 11.6V2H6.2Q9.4 2 9.4 5Q9.4 8 6.2 8H4.6V11.6ZM4.6 3.9V6.1H6Q7.3 6.1 7.3 5Q7.3 3.9 6 3.9Z" fill="#fff"/>
<rect x="5.9" y="8.4" width="5" height="3" rx="0.6" fill="#fff"/><rect x="6.8" y="9" width="3.2" height="0.9" fill="#1e2d7d"/>
</g>
<text x="435.8" y="279.3" font-size="5.1" fill="#333" text-anchor="middle">P5停车场</text>
<text x="439" y="286" font-size="6.2" fill="#d0433f" text-anchor="middle">（VIP）</text>
<g transform="translate(462.80 299.80) scale(0.8500)">
<rect x="0" y="0" width="12" height="12" fill="#1e2d7d"/>
<path d="M4.3 11.8L6 14.2L7.7 11.8Z" fill="#1e2d7d"/>
<path d="M2.4 11.6V2H6.2Q9.4 2 9.4 5Q9.4 8 6.2 8H4.6V11.6ZM4.6 3.9V6.1H6Q7.3 6.1 7.3 5Q7.3 3.9 6 3.9Z" fill="#fff"/>
<rect x="5.9" y="8.4" width="5" height="3" rx="0.6" fill="#fff"/><rect x="6.8" y="9" width="3.2" height="0.9" fill="#1e2d7d"/>
</g>
<text x="467.5" y="316.3" font-size="5.1" fill="#333" text-anchor="middle">P4停车场</text>
<g transform="translate(440.00 340.00) scale(0.8667)">
<rect x="0" y="0" width="12" height="12" fill="#1e2d7d"/>
<path d="M4.3 11.8L6 14.2L7.7 11.8Z" fill="#1e2d7d"/>
<path d="M2.4 11.6V2H6.2Q9.4 2 9.4 5Q9.4 8 6.2 8H4.6V11.6ZM4.6 3.9V6.1H6Q7.3 6.1 7.3 5Q7.3 3.9 6 3.9Z" fill="#fff"/>
<rect x="5.9" y="8.4" width="5" height="3" rx="0.6" fill="#fff"/><rect x="6.8" y="9" width="3.2" height="0.9" fill="#1e2d7d"/>
</g>
<text x="445.2" y="357.6" font-size="5.1" fill="#333" text-anchor="middle">东南广场</text>
<g transform="translate(202.00 447.00) scale(0.8667)">
<rect x="0" y="0" width="12" height="12" fill="#1e2d7d"/>
<path d="M4.3 11.8L6 14.2L7.7 11.8Z" fill="#1e2d7d"/>
<path d="M2.4 11.6V2H6.2Q9.4 2 9.4 5Q9.4 8 6.2 8H4.6V11.6ZM4.6 3.9V6.1H6Q7.3 6.1 7.3 5Q7.3 3.9 6 3.9Z" fill="#fff"/>
<rect x="5.9" y="8.4" width="5" height="3" rx="0.6" fill="#fff"/><rect x="6.8" y="9" width="3.2" height="0.9" fill="#1e2d7d"/>
</g>
<text x="189.4" y="455.2" font-size="5.1" fill="#333" text-anchor="middle">南广场</text>
<g transform="translate(292.00 446.30) scale(0.8667)">
<rect x="0" y="0" width="12" height="12" fill="#1e2d7d"/>
<path d="M4.3 11.8L6 14.2L7.7 11.8Z" fill="#1e2d7d"/>
<path d="M2.4 11.6V2H6.2Q9.4 2 9.4 5Q9.4 8 6.2 8H4.6V11.6ZM4.6 3.9V6.1H6Q7.3 6.1 7.3 5Q7.3 3.9 6 3.9Z" fill="#fff"/>
<rect x="5.9" y="8.4" width="5" height="3" rx="0.6" fill="#fff"/><rect x="6.8" y="9" width="3.2" height="0.9" fill="#1e2d7d"/>
</g>
<text x="304.5" y="453.4" font-size="5.1" fill="#333">P3停车场</text>
<g transform="rotate(-24 187.6 137.6)"><rect x="183.4" y="133.4" width="8.4" height="8.4" rx="0.8" fill="#fff" stroke="#3aa35a" stroke-width="0.8"/><path d="M187.6 140V135.6M185.8 137.4L187.6 135.2L189.4 137.4" fill="none" stroke="#3aa35a" stroke-width="0.9"/></g>
<g transform="rotate(-18 189.2 161.3)">
<g transform="translate(180.60 157.00) scale(0.7167)">
<rect x="0" y="0" width="12" height="12" fill="#2e9e78"/>
<path d="M3.1 2V10.2" stroke="#fff" stroke-width="1.1" fill="none"/><path d="M1.4 5.6H4.8M1.6 7.6L3.1 5.8L4.6 7.6" stroke="#fff" stroke-width="0.9" fill="none"/>
<path d="M5.9 2.4H9.9V9.8H5.9Z" stroke="#fff" stroke-width="1" fill="none"/><path d="M6.1 2.4V9.8" stroke="#fff" stroke-width="1.5" fill="none"/>
</g>
<g transform="translate(189.20 157.00) scale(0.7167)">
<rect x="0" y="0" width="12" height="12" fill="#2e9e78"/>
<path d="M5.4 1.6Q7.4 1.6 7.4 3.8Q7.4 5.2 6.6 6Q9.4 6.8 9.6 10.2H1.4Q1.6 6.8 4.2 6Q3.4 5.2 3.4 3.8Q3.4 1.6 5.4 1.6Z" fill="none" stroke="#fff" stroke-width="0.8"/>
<path d="M7.8 3.2Q9.2 3.4 9 5Q8.9 5.8 8.4 6.2Q10.4 6.8 10.8 9.4" fill="none" stroke="#fff" stroke-width="0.7"/>
</g>
<path d="M187.89999999999998 165.5L189.2 167.4L190.5 165.5Z" fill="#2e9e78"/>
</g>
<g transform="rotate(-20 190.6 172.6)">
<g transform="translate(186.60 168.00)"><rect x="0.4" y="0.4" width="7.8" height="8.399999999999999" fill="#fff" stroke="#b4333a" stroke-width="0.8"/><path d="M-1.6 4.6H4.4719999999999995M2.5799999999999996 3.0999999999999996L4.73 4.6L2.5799999999999996 6.1" fill="none" stroke="#c0272d" stroke-width="0.85"/><path d="M6.191999999999999 2.3V6.8999999999999995" stroke="#d98a8a" stroke-width="0.7"/></g>
</g>
<g transform="translate(369.60 198.20) scale(0.7667)">
<rect x="0" y="0" width="12" height="12" fill="#2e9e78"/>
<path d="M3.1 2V10.2" stroke="#fff" stroke-width="1.1" fill="none"/><path d="M1.4 5.6H4.8M1.6 7.6L3.1 5.8L4.6 7.6" stroke="#fff" stroke-width="0.9" fill="none"/>
<path d="M5.9 2.4H9.9V9.8H5.9Z" stroke="#fff" stroke-width="1" fill="none"/><path d="M6.1 2.4V9.8" stroke="#fff" stroke-width="1.5" fill="none"/>
</g>
<g transform="translate(378.80 198.20) scale(0.7667)">
<rect x="0" y="0" width="12" height="12" fill="#2e9e78"/>
<path d="M5.4 1.6Q7.4 1.6 7.4 3.8Q7.4 5.2 6.6 6Q9.4 6.8 9.6 10.2H1.4Q1.6 6.8 4.2 6Q3.4 5.2 3.4 3.8Q3.4 1.6 5.4 1.6Z" fill="none" stroke="#fff" stroke-width="0.8"/>
<path d="M7.8 3.2Q9.2 3.4 9 5Q8.9 5.8 8.4 6.2Q10.4 6.8 10.8 9.4" fill="none" stroke="#fff" stroke-width="0.7"/>
</g>
<path d="M377.5 207.29999999999998L378.8 209.2L380.1 207.29999999999998Z" fill="#2e9e78"/>
<g transform="rotate(-40 364 224)">
<g transform="translate(359.60 219.20) scale(0.6333)">
<path d="M0.5 3.6V12H11.5V3.6" fill="#fff" stroke="#3aa35a" stroke-width="1"/>
<path d="M0.5 3.8L6 0.4L11.5 3.8" fill="#fff" stroke="#3aa35a" stroke-width="0.55" opacity="0.8"/>
<path d="M6 8.2V4.2" fill="none" stroke="#3aa35a" stroke-width="1.5"/><path d="M3.7 6.2L6 3.5L8.3 6.2" fill="none" stroke="#3aa35a" stroke-width="1.3"/>
</g>
</g>
<g transform="rotate(-40 370 231)">
<g transform="translate(366.00 226.60) scale(0.6333)">
<path d="M2.2 9.8H0.5V0.5H11.5V9.8H9.8" fill="#fff" stroke="#a5282c" stroke-width="1"/>
<path d="M2.8 7.4L6 4.4L9.2 7.4" fill="none" stroke="#e08a8a" stroke-width="0.6"/>
<path d="M6 12.2V7" fill="none" stroke="#c0272d" stroke-width="1.3"/><path d="M3.5 9L6 6.2L8.5 9" fill="none" stroke="#c0272d" stroke-width="1.2"/>
</g>
</g>
<g transform="translate(232.80 172.00) scale(1.0667)">
<rect x="0" y="0" width="12" height="12" rx="0.5" fill="#c8232c"/>
<path d="M4.3 11.8L6 14.2L7.7 11.8Z" fill="#c8232c"/>
<circle cx="6" cy="6" r="4.3" fill="none" stroke="#fff" stroke-width="0.8"/><path d="M6 3V9M3 6H9" stroke="#fff" stroke-width="2" fill="none"/>
</g>
<g transform="translate(241.40 195.20) scale(0.8000)">
<rect x="0" y="0" width="12" height="12" rx="0.8" fill="#4fbcc6"/>
<path d="M4.3 11.8L6 14.2L7.7 11.8Z" fill="#4fbcc6"/>
<circle cx="6" cy="5.6" r="3.7" fill="none" stroke="#fff" stroke-width="0.9"/><path d="M4 8.6L3.2 10.6L5.4 9.4" fill="none" stroke="#fff" stroke-width="0.8"/><circle cx="4.4" cy="5.6" r="0.4" fill="#fff"/><circle cx="6" cy="5.6" r="0.4" fill="#fff"/><circle cx="7.6" cy="5.6" r="0.4" fill="#fff"/>
</g>
<g transform="translate(251.00 210.40) scale(0.9167)">
<rect x="0" y="0" width="12" height="12" fill="#1e2d7d"/>
<path d="M4.3 11.8L6 14.2L7.7 11.8Z" fill="#1e2d7d"/>
<circle cx="6" cy="3.1" r="1.5" fill="#fff"/><path d="M3.2 10.4L4 5.2H8L8.8 10.4Z" fill="#fff"/>
<path d="M4.6 6.6L6 8.8L7.4 6.6M4.2 9.2H7.8" fill="none" stroke="#1e2d7d" stroke-width="0.7"/>
</g>
<g transform="translate(256.30 223.80) scale(0.7667)">
<rect x="0" y="0" width="12" height="12" fill="#2e9e78"/>
<path d="M3.1 2V10.2" stroke="#fff" stroke-width="1.1" fill="none"/><path d="M1.4 5.6H4.8M1.6 7.6L3.1 5.8L4.6 7.6" stroke="#fff" stroke-width="0.9" fill="none"/>
<path d="M5.9 2.4H9.9V9.8H5.9Z" stroke="#fff" stroke-width="1" fill="none"/><path d="M6.1 2.4V9.8" stroke="#fff" stroke-width="1.5" fill="none"/>
</g>
<g transform="translate(265.5 223.8) scale(0.7666666666666666)"><rect width="12" height="12" fill="#2e9e78"/><path d="M3.2 9.8V2.4H6Q8.4 2.4 8.4 4.6Q8.4 6.8 6 6.8H4.2" fill="none" stroke="#fff" stroke-width="1.2"/><path d="M6 6.6L8.4 10M9.8 5.4L7.4 10.2" fill="none" stroke="#fff" stroke-width="0.9"/></g>
<g transform="translate(274.70 223.80) scale(0.7667)">
<rect x="0" y="0" width="12" height="12" fill="#2e9e78"/>
<path d="M5.4 1.6Q7.4 1.6 7.4 3.8Q7.4 5.2 6.6 6Q9.4 6.8 9.6 10.2H1.4Q1.6 6.8 4.2 6Q3.4 5.2 3.4 3.8Q3.4 1.6 5.4 1.6Z" fill="none" stroke="#fff" stroke-width="0.8"/>
<path d="M7.8 3.2Q9.2 3.4 9 5Q8.9 5.8 8.4 6.2Q10.4 6.8 10.8 9.4" fill="none" stroke="#fff" stroke-width="0.7"/>
</g>
<path d="M268.8 232.9L270.1 234.8L271.40000000000003 232.9Z" fill="#2e9e78"/>
<g transform="translate(288.80 253.80) scale(0.8000)">
<rect x="0" y="0" width="12" height="12" rx="0.5" fill="#e9984a"/>
<path d="M4.3 11.8L6 14.2L7.7 11.8Z" fill="#e9984a"/>
<path d="M6 10L2.6 6.4Q1.2 4.6 2.6 3.2Q4.3 2 6 4Q7.7 2 9.4 3.2Q10.8 4.6 9.4 6.4Z" fill="none" stroke="#fff" stroke-width="0.9"/><path d="M8.6 4.6L6.4 7.2" stroke="#fff" stroke-width="0.7" fill="none"/>
</g>
<g transform="translate(316.40 289.00) scale(0.8000)">
<rect x="0" y="0" width="12" height="12" rx="0.8" fill="#4fbcc6"/>
<path d="M4.3 11.8L6 14.2L7.7 11.8Z" fill="#4fbcc6"/>
<circle cx="6" cy="5.6" r="3.7" fill="none" stroke="#fff" stroke-width="0.9"/><path d="M4 8.6L3.2 10.6L5.4 9.4" fill="none" stroke="#fff" stroke-width="0.8"/><circle cx="4.4" cy="5.6" r="0.4" fill="#fff"/><circle cx="6" cy="5.6" r="0.4" fill="#fff"/><circle cx="7.6" cy="5.6" r="0.4" fill="#fff"/>
</g>
<g transform="translate(313.80 306.30) scale(0.7833)">
<rect x="0" y="0" width="12" height="12" fill="#2e9e78"/>
<path d="M3.1 2V10.2" stroke="#fff" stroke-width="1.1" fill="none"/><path d="M1.4 5.6H4.8M1.6 7.6L3.1 5.8L4.6 7.6" stroke="#fff" stroke-width="0.9" fill="none"/>
<path d="M5.9 2.4H9.9V9.8H5.9Z" stroke="#fff" stroke-width="1" fill="none"/><path d="M6.1 2.4V9.8" stroke="#fff" stroke-width="1.5" fill="none"/>
</g>
<g transform="translate(323.2 306.3) scale(0.7833333333333333)"><rect width="12" height="12" fill="#2e9e78"/><path d="M3.2 9.8V2.4H6Q8.4 2.4 8.4 4.6Q8.4 6.8 6 6.8H4.2" fill="none" stroke="#fff" stroke-width="1.2"/><path d="M6 6.6L8.4 10M9.8 5.4L7.4 10.2" fill="none" stroke="#fff" stroke-width="0.9"/></g>
<g transform="translate(332.60 306.30) scale(0.7833)">
<rect x="0" y="0" width="12" height="12" fill="#2e9e78"/>
<path d="M5.4 1.6Q7.4 1.6 7.4 3.8Q7.4 5.2 6.6 6Q9.4 6.8 9.6 10.2H1.4Q1.6 6.8 4.2 6Q3.4 5.2 3.4 3.8Q3.4 1.6 5.4 1.6Z" fill="none" stroke="#fff" stroke-width="0.8"/>
<path d="M7.8 3.2Q9.2 3.4 9 5Q8.9 5.8 8.4 6.2Q10.4 6.8 10.8 9.4" fill="none" stroke="#fff" stroke-width="0.7"/>
</g>
<path d="M326.6 315.59999999999997L327.90000000000003 317.5L329.20000000000005 315.59999999999997Z" fill="#2e9e78"/>
<g transform="translate(331.20 335.20) scale(0.9167)">
<rect x="0" y="0" width="12" height="12" rx="0.5" fill="#c8232c"/>
<path d="M4.3 11.8L6 14.2L7.7 11.8Z" fill="#c8232c"/>
<circle cx="6" cy="6" r="4.3" fill="none" stroke="#fff" stroke-width="0.8"/><path d="M6 3V9M3 6H9" stroke="#fff" stroke-width="2" fill="none"/>
</g>
<g transform="translate(345.20 335.20) scale(0.9167)">
<rect x="0" y="0" width="12" height="12" fill="#1e2d7d"/>
<path d="M4.3 11.8L6 14.2L7.7 11.8Z" fill="#1e2d7d"/>
<circle cx="6" cy="3.1" r="1.5" fill="#fff"/><path d="M3.2 10.4L4 5.2H8L8.8 10.4Z" fill="#fff"/>
<path d="M4.6 6.6L6 8.8L7.4 6.6M4.2 9.2H7.8" fill="none" stroke="#1e2d7d" stroke-width="0.7"/>
</g>
<g transform="translate(176.40 304.00) scale(0.7583)">
<rect x="0" y="0" width="12" height="12" fill="#2e9e78"/>
<path d="M3.1 2V10.2" stroke="#fff" stroke-width="1.1" fill="none"/><path d="M1.4 5.6H4.8M1.6 7.6L3.1 5.8L4.6 7.6" stroke="#fff" stroke-width="0.9" fill="none"/>
<path d="M5.9 2.4H9.9V9.8H5.9Z" stroke="#fff" stroke-width="1" fill="none"/><path d="M6.1 2.4V9.8" stroke="#fff" stroke-width="1.5" fill="none"/>
</g>
<g transform="translate(185.50 304.00) scale(0.7583)">
<rect x="0" y="0" width="12" height="12" fill="#2e9e78"/>
<path d="M5.4 1.6Q7.4 1.6 7.4 3.8Q7.4 5.2 6.6 6Q9.4 6.8 9.6 10.2H1.4Q1.6 6.8 4.2 6Q3.4 5.2 3.4 3.8Q3.4 1.6 5.4 1.6Z" fill="none" stroke="#fff" stroke-width="0.8"/>
<path d="M7.8 3.2Q9.2 3.4 9 5Q8.9 5.8 8.4 6.2Q10.4 6.8 10.8 9.4" fill="none" stroke="#fff" stroke-width="0.7"/>
</g>
<path d="M184.2 313.0L185.5 314.90000000000003L186.8 313.0Z" fill="#2e9e78"/>
<g transform="translate(203.40 304.50)"><rect x="0.4" y="0.4" width="6.6000000000000005" height="8.2" fill="#fff" stroke="#b4333a" stroke-width="0.8"/><path d="M-1.6 4.5H3.8480000000000003M2.22 3.0L4.07 4.5L2.22 6.0" fill="none" stroke="#c0272d" stroke-width="0.85"/><path d="M5.328 2.25V6.75" stroke="#d98a8a" stroke-width="0.7"/></g>
<g transform="translate(147.60 306.20) scale(0.7500)">
<path d="M0.5 3.6V12H11.5V3.6" fill="#fff" stroke="#3aa35a" stroke-width="1"/>
<path d="M0.5 3.8L6 0.4L11.5 3.8" fill="#fff" stroke="#3aa35a" stroke-width="0.55" opacity="0.8"/>
<path d="M6 8.2V4.2" fill="none" stroke="#3aa35a" stroke-width="1.5"/><path d="M3.7 6.2L6 3.5L8.3 6.2" fill="none" stroke="#3aa35a" stroke-width="1.3"/>
</g>
<g transform="translate(222.20 329.20) scale(0.7583)">
<rect x="0" y="0" width="12" height="12" fill="#2e9e78"/>
<path d="M3.1 2V10.2" stroke="#fff" stroke-width="1.1" fill="none"/><path d="M1.4 5.6H4.8M1.6 7.6L3.1 5.8L4.6 7.6" stroke="#fff" stroke-width="0.9" fill="none"/>
<path d="M5.9 2.4H9.9V9.8H5.9Z" stroke="#fff" stroke-width="1" fill="none"/><path d="M6.1 2.4V9.8" stroke="#fff" stroke-width="1.5" fill="none"/>
</g>
<g transform="translate(231.29999999999998 329.2) scale(0.7583333333333333)"><rect width="12" height="12" fill="#2e9e78"/><path d="M3.2 9.8V2.4H6Q8.4 2.4 8.4 4.6Q8.4 6.8 6 6.8H4.2" fill="none" stroke="#fff" stroke-width="1.2"/><path d="M6 6.6L8.4 10M9.8 5.4L7.4 10.2" fill="none" stroke="#fff" stroke-width="0.9"/></g>
<g transform="translate(240.40 329.20) scale(0.7583)">
<rect x="0" y="0" width="12" height="12" fill="#2e9e78"/>
<path d="M5.4 1.6Q7.4 1.6 7.4 3.8Q7.4 5.2 6.6 6Q9.4 6.8 9.6 10.2H1.4Q1.6 6.8 4.2 6Q3.4 5.2 3.4 3.8Q3.4 1.6 5.4 1.6Z" fill="none" stroke="#fff" stroke-width="0.8"/>
<path d="M7.8 3.2Q9.2 3.4 9 5Q8.9 5.8 8.4 6.2Q10.4 6.8 10.8 9.4" fill="none" stroke="#fff" stroke-width="0.7"/>
</g>
<path d="M234.54999999999998 338.2L235.85 340.1L237.15 338.2Z" fill="#2e9e78"/>
<g transform="translate(253.80 328.80) scale(0.7500)">
<rect x="0" y="0" width="12" height="12" rx="0.5" fill="#e9984a"/>
<path d="M4.3 11.8L6 14.2L7.7 11.8Z" fill="#e9984a"/>
<path d="M6 10L2.6 6.4Q1.2 4.6 2.6 3.2Q4.3 2 6 4Q7.7 2 9.4 3.2Q10.8 4.6 9.4 6.4Z" fill="none" stroke="#fff" stroke-width="0.9"/><path d="M8.6 4.6L6.4 7.2" stroke="#fff" stroke-width="0.7" fill="none"/>
</g>
<g transform="translate(273.80 328.80) scale(0.7667)">
<rect x="0" y="0" width="12" height="12" rx="0.8" fill="#4fbcc6"/>
<path d="M4.3 11.8L6 14.2L7.7 11.8Z" fill="#4fbcc6"/>
<circle cx="6" cy="5.6" r="3.7" fill="none" stroke="#fff" stroke-width="0.9"/><path d="M4 8.6L3.2 10.6L5.4 9.4" fill="none" stroke="#fff" stroke-width="0.8"/><circle cx="4.4" cy="5.6" r="0.4" fill="#fff"/><circle cx="6" cy="5.6" r="0.4" fill="#fff"/><circle cx="7.6" cy="5.6" r="0.4" fill="#fff"/>
</g>
<g transform="translate(262.40 336.40) scale(0.8833)">
<rect x="0" y="0" width="12" height="12" fill="#1e2d7d"/>
<path d="M4.3 11.8L6 14.2L7.7 11.8Z" fill="#1e2d7d"/>
<circle cx="6" cy="3.1" r="1.5" fill="#fff"/><path d="M3.2 10.4L4 5.2H8L8.8 10.4Z" fill="#fff"/>
<path d="M4.6 6.6L6 8.8L7.4 6.6M4.2 9.2H7.8" fill="none" stroke="#1e2d7d" stroke-width="0.7"/>
</g>
<g transform="translate(223.80 430.40) scale(0.8000)">
<rect x="0" y="0" width="12" height="12" fill="#2e9e78"/>
<path d="M3.1 2V10.2" stroke="#fff" stroke-width="1.1" fill="none"/><path d="M1.4 5.6H4.8M1.6 7.6L3.1 5.8L4.6 7.6" stroke="#fff" stroke-width="0.9" fill="none"/>
<path d="M5.9 2.4H9.9V9.8H5.9Z" stroke="#fff" stroke-width="1" fill="none"/><path d="M6.1 2.4V9.8" stroke="#fff" stroke-width="1.5" fill="none"/>
</g>
<g transform="translate(233.40 430.40) scale(0.8000)">
<rect x="0" y="0" width="12" height="12" fill="#2e9e78"/>
<path d="M5.4 1.6Q7.4 1.6 7.4 3.8Q7.4 5.2 6.6 6Q9.4 6.8 9.6 10.2H1.4Q1.6 6.8 4.2 6Q3.4 5.2 3.4 3.8Q3.4 1.6 5.4 1.6Z" fill="none" stroke="#fff" stroke-width="0.8"/>
<path d="M7.8 3.2Q9.2 3.4 9 5Q8.9 5.8 8.4 6.2Q10.4 6.8 10.8 9.4" fill="none" stroke="#fff" stroke-width="0.7"/>
</g>
<path d="M232.1 439.9L233.4 441.8L234.70000000000002 439.9Z" fill="#2e9e78"/>
<g transform="translate(225.80 415.60) scale(0.5833)">
<path d="M2.2 9.8H0.5V0.5H11.5V9.8H9.8" fill="#fff" stroke="#a5282c" stroke-width="1"/>
<path d="M2.8 7.4L6 4.4L9.2 7.4" fill="none" stroke="#e08a8a" stroke-width="0.6"/>
<path d="M6 12.2V7" fill="none" stroke="#c0272d" stroke-width="1.3"/><path d="M3.5 9L6 6.2L8.5 9" fill="none" stroke="#c0272d" stroke-width="1.2"/>
</g>
<g transform="translate(234.60 415.60) scale(0.5833)">
<path d="M0.5 3.6V12H11.5V3.6" fill="#fff" stroke="#3aa35a" stroke-width="1"/>
<path d="M0.5 3.8L6 0.4L11.5 3.8" fill="#fff" stroke="#3aa35a" stroke-width="0.55" opacity="0.8"/>
<path d="M6 8.2V4.2" fill="none" stroke="#3aa35a" stroke-width="1.5"/><path d="M3.7 6.2L6 3.5L8.3 6.2" fill="none" stroke="#3aa35a" stroke-width="1.3"/>
</g>
<circle cx="430" cy="112.5" r="12.8" fill="none" stroke="#111" stroke-width="0.75"/>
<path d="M430 99.9L433.9 124.4Q430 125.6 426.1 124.4Z" fill="#080808"/>
<text x="430" y="97.1" font-size="8" fill="#222" text-anchor="middle" font-weight="normal" >N</text>
<rect x="518.8" y="125.4" width="173.6" height="189.8" rx="0" fill="#fff" stroke="#84adc3" stroke-width="0.8"/>
<text x="527.4" y="153.6" font-size="6.6" fill="#333">2F平面点位</text>
<path d="M575.0 176.0C582.5 169.5 603.2 133.0 620.0 137.0C636.8 141.0 666.5 187.0 676.0 200.0C685.5 213.0 677.8 208.7 677.0 215.0C676.2 221.3 673.8 230.5 671.0 238.0C668.2 245.5 664.3 252.8 660.0 260.0C655.7 267.2 650.0 275.0 645.0 281.0C640.0 287.0 635.5 291.8 630.0 296.0C624.5 300.2 617.0 304.0 612.0 306.0C607.0 308.0 602.0 307.7 600.0 308.0L540 308V242H552C554.7 240.3 563.7 235.5 568.0 232.0C572.3 228.5 575.5 225.3 578.0 221.0C580.5 216.7 582.5 211.2 583.0 206.0C583.5 200.8 582.3 195.0 581.0 190.0C579.7 185.0 576.0 178.3 575.0 176.0" fill="#fbfbfb" stroke="#d5d5d5" stroke-width="0.4" />
<g transform="translate(620.4 137.2) rotate(50)">
<path d="M2 0H22.8Q24.8 0 24.8 2V41.8H38.3V62.8H0V2Q0 0 2 0Z" fill="#7ccac1"/>
<path d="M38.3 2Q38.3 0 40.3 0H61.6Q63.6 0 63.6 2V62.8H38.3Z" fill="#1b75bb"/>
<path d="M24.8 41.8V62.8" stroke="#fff" stroke-width="0.5"/>
<rect x="37.3" y="39.4" width="1" height="2.5" fill="#7ccac1"/><rect x="12.6" y="-0.3" width="2.8" height="1.4" fill="#fff"/><rect x="51.4" y="-0.3" width="2.8" height="1.4" fill="#fff"/>
<text transform="translate(6.6 9.6) scale(0.86 1)" font-size="9.6" fill="#fff">7</text>
<text x="11.6" y="9.2" font-size="3.2" fill="#fff">号馆</text>
<text transform="translate(14.20 13.00)" font-size="4" fill="#fff" text-anchor="middle"><tspan x="0" y="3.52">央</tspan><tspan x="0" dy="4.5">企</tspan><tspan x="0" dy="4.5">国</tspan><tspan x="0" dy="4.5">际</tspan><tspan x="0" dy="4.5">展</tspan><tspan x="0" dy="4.5">示</tspan><tspan x="0" dy="4.5">中</tspan><tspan x="0" dy="4.5">心</tspan></text>
<text transform="translate(44.6 9.6) scale(0.86 1)" font-size="9.6" fill="#fff">8</text>
<text x="49.6" y="9.2" font-size="3.2" fill="#fff">号馆</text>
<text transform="translate(52.60 13.60)" font-size="5" fill="#fff" text-anchor="middle"><tspan x="0" y="4.4">四</tspan><tspan x="0" dy="6.2">川</tspan><tspan x="0" dy="6.2">市</tspan><tspan x="0" dy="6.2">州</tspan><tspan x="0" dy="6.2">馆</tspan></text>
</g>
<g opacity="0.95">
<g transform="translate(583.00 199.80) scale(0.7667)">
<rect x="0" y="0" width="12" height="12" rx="0.8" fill="#4fbcc6"/>
<path d="M4.3 11.8L6 14.2L7.7 11.8Z" fill="#4fbcc6"/>
<circle cx="6" cy="5.6" r="3.7" fill="none" stroke="#fff" stroke-width="0.9"/><path d="M4 8.6L3.2 10.6L5.4 9.4" fill="none" stroke="#fff" stroke-width="0.8"/><circle cx="4.4" cy="5.6" r="0.4" fill="#fff"/><circle cx="6" cy="5.6" r="0.4" fill="#fff"/><circle cx="7.6" cy="5.6" r="0.4" fill="#fff"/>
</g>
</g>
<circle cx="664.2" cy="204.1" r="11" fill="none" stroke="#3a3a3a" stroke-width="0.75" stroke-dasharray="2.8 1.5"/><circle cx="664.2" cy="204.1" r="4" fill="none" stroke="#3a3a3a" stroke-width="0.7" stroke-dasharray="2 1"/>
<circle cx="620.8" cy="293" r="11.2" fill="none" stroke="#3a3a3a" stroke-width="0.75" stroke-dasharray="2.8 1.5"/><circle cx="620.8" cy="293" r="4" fill="none" stroke="#3a3a3a" stroke-width="0.7" stroke-dasharray="2 1"/>
<path d="M649.7 215.4L665.7 229.7L644.2 276.9L626.2 276.9L620.7 271.2L622.1 239.4Z" fill="none" stroke="#333" stroke-width="0.6" stroke-dasharray="2.4 1.4" stroke-linejoin="round"/>
<text x="636.2" y="249.6" font-size="8.8" fill="#333" text-anchor="middle" font-weight="normal" >9</text>
<text x="639.2" y="249.2" font-size="3.4" fill="#444">号馆</text>
<path d="M543 242.8H579.7V263.3H567.4V302.8Q567.4 304.8 565.4 304.8H543Q541 304.8 541 302.8V244.8Q541 242.8 543 242.8Z" fill="#66c0ba" stroke="none" stroke-width="1" />
<path d="M567.6 243V263" fill="none" stroke="#fff" stroke-width="0.4" />
<path d="M581.2 242.8H605Q607 242.8 607 244.8V302.8Q607 304.8 605 304.8H583.2Q581.2 304.8 581.2 302.8Z" fill="#b18bbd" stroke="none" stroke-width="1" />
<rect x="570.8" y="262.4" width="5.0" height="1.2" rx="0" fill="#fff" />
<rect x="552.0" y="303.8" width="4.0" height="1.2" rx="0" fill="#fff" />
<rect x="592.0" y="303.8" width="4.0" height="1.2" rx="0" fill="#fff" />
<text transform="translate(553.40 249.50)" font-size="4.7" fill="#fff" text-anchor="middle"><tspan x="0" y="4.14">“</tspan><tspan x="0" dy="4.75">四</tspan><tspan x="0" dy="4.75">家</tspan><tspan x="0" dy="4.75">”</tspan><tspan x="0" dy="4.75">服</tspan><tspan x="0" dy="4.75">务</tspan><tspan x="0" dy="4.75">中</tspan><tspan x="0" dy="4.75">心</tspan></text>
<text transform="translate(598.60 250.50)" font-size="4.7" fill="#fff" text-anchor="middle"><tspan x="0" y="4.14">「</tspan><tspan x="0" dy="5">乡</tspan><tspan x="0" dy="5">村</tspan><tspan x="0" dy="5">振</tspan><tspan x="0" dy="5">兴</tspan><tspan x="0" dy="5">」</tspan></text>
<text transform="translate(588.50 253.00)" font-size="4.7" fill="#fff" text-anchor="middle"><tspan x="0" y="4.14">食</tspan><tspan x="0" dy="5">品</tspan><tspan x="0" dy="5">轻</tspan><tspan x="0" dy="5">纺</tspan><tspan x="0" dy="5">馆</tspan></text>
<text transform="translate(545.30 303.2) scale(0.84 1)" font-size="12.2" fill="#fff">13</text>
<text x="557.1" y="302.9" font-size="3.3" fill="#fff">号馆</text>
<text transform="translate(585.30 303.2) scale(0.84 1)" font-size="12.2" fill="#fff">12</text>
<text x="597.1" y="302.9" font-size="3.3" fill="#fff">号馆</text>
<path d="M567.4 174.8L619.9 130.6L677.5 197.0C677.9 199.3 680.2 204.5 679.8 211.0C679.4 217.5 677.5 227.7 675.0 236.0C672.5 244.3 668.6 253.3 664.5 261.0C660.4 268.7 655.1 275.9 650.5 282.0C645.9 288.1 641.5 293.1 637.0 297.3C632.5 301.6 627.8 305.1 623.2 307.5C618.6 309.9 611.8 311.2 609.5 312.0H538.8V241.6C541.5 241.0 550.0 239.8 555.0 238.0C560.0 236.2 565.1 233.9 569.0 231.0C572.9 228.1 576.3 224.2 578.6 220.5C580.9 216.8 582.5 212.6 582.8 209.0C583.1 205.4 581.8 202.7 580.3 199.0C578.8 195.3 575.6 191.0 573.5 187.0C571.4 183.0 568.4 176.8 567.4 174.8" fill="none" stroke="#b3242b" stroke-width="1.25" stroke-dasharray="3.4 3.4"/>
<rect x="518.8" y="329.6" width="173.5" height="130.0" rx="0" fill="#fff" stroke="#84adc3" stroke-width="0.8"/>
<g transform="translate(527.40 335.40) scale(0.9667)">
<path d="M0.5 3.6V12H11.5V3.6" fill="#fff" stroke="#3aa35a" stroke-width="1"/>
<path d="M0.5 3.8L6 0.4L11.5 3.8" fill="#fff" stroke="#3aa35a" stroke-width="0.55" opacity="0.8"/>
<path d="M6 8.2V4.2" fill="none" stroke="#3aa35a" stroke-width="1.5"/><path d="M3.7 6.2L6 3.5L8.3 6.2" fill="none" stroke="#3aa35a" stroke-width="1.3"/>
</g>
<text x="545.8" y="345.2" font-size="8.45" font-weight="bold" fill="#1f1f1f">出口</text>
<g transform="translate(527.40 356.70) scale(0.9667)">
<path d="M2.2 9.8H0.5V0.5H11.5V9.8H9.8" fill="#fff" stroke="#a5282c" stroke-width="1"/>
<path d="M2.8 7.4L6 4.4L9.2 7.4" fill="none" stroke="#e08a8a" stroke-width="0.6"/>
<path d="M6 12.2V7" fill="none" stroke="#c0272d" stroke-width="1.3"/><path d="M3.5 9L6 6.2L8.5 9" fill="none" stroke="#c0272d" stroke-width="1.2"/>
</g>
<text x="545.8" y="366.1" font-size="8.45" font-weight="bold" fill="#1f1f1f">入口</text>
<g transform="translate(527.40 378.30) scale(0.9667)">
<rect x="0" y="0" width="12" height="12" fill="#2e9e78"/>
<path d="M4.3 11.8L6 14.2L7.7 11.8Z" fill="#2e9e78"/>
<path d="M3.1 2V10.2" stroke="#fff" stroke-width="1.1" fill="none"/><path d="M1.4 5.6H4.8M1.6 7.6L3.1 5.8L4.6 7.6" stroke="#fff" stroke-width="0.9" fill="none"/>
<path d="M5.9 2.4H9.9V9.8H5.9Z" stroke="#fff" stroke-width="1" fill="none"/><path d="M6.1 2.4V9.8" stroke="#fff" stroke-width="1.5" fill="none"/>
</g>
<text x="545.8" y="387.3" font-size="8.45" font-weight="bold" fill="#1f1f1f">门禁区</text>
<g transform="translate(527.40 398.40) scale(0.9667)">
<rect x="0" y="0" width="12" height="12" fill="#2e9e78"/>
<path d="M4.3 11.8L6 14.2L7.7 11.8Z" fill="#2e9e78"/>
<path d="M5.4 1.6Q7.4 1.6 7.4 3.8Q7.4 5.2 6.6 6Q9.4 6.8 9.6 10.2H1.4Q1.6 6.8 4.2 6Q3.4 5.2 3.4 3.8Q3.4 1.6 5.4 1.6Z" fill="none" stroke="#fff" stroke-width="0.8"/>
<path d="M7.8 3.2Q9.2 3.4 9 5Q8.9 5.8 8.4 6.2Q10.4 6.8 10.8 9.4" fill="none" stroke="#fff" stroke-width="0.7"/>
</g>
<text x="545.8" y="407.9" font-size="8.45" font-weight="bold" fill="#1f1f1f">观众登记处</text>
<g transform="translate(525.10 421.40) scale(1.1067)">
<path d="M0 3.3Q0.4 0.8 3.2 0.1Q7.8 -0.8 15.4 2.6Q9.4 1.3 5.8 2Q3.4 2.5 3 4.3Q1 4.6 0 3.3Z" fill="#184f8c"/>
<path d="M3.4 3.6Q4.6 2.2 7.4 2.2Q10 2.2 12.6 3.2Q9.6 2.7 7.4 2.9Q5.2 3.1 4.4 3.9Z" fill="#3f7fb8"/>
<rect x="0.6" y="5" width="14" height="1.5" fill="#6f8fa8" opacity="0.7"/>
</g>
<text x="545.8" y="428.5" font-size="8.45" font-weight="bold" fill="#1f1f1f">成都地铁</text>
<g transform="translate(527.20 439.20) scale(0.9750)">
<rect x="0" y="0" width="12" height="12" fill="#1e2d7d"/>
<path d="M4.3 11.8L6 14.2L7.7 11.8Z" fill="#1e2d7d"/>
<circle cx="6" cy="3.1" r="1.5" fill="#fff"/><path d="M3.2 10.4L4 5.2H8L8.8 10.4Z" fill="#fff"/>
<path d="M4.6 6.6L6 8.8L7.4 6.6M4.2 9.2H7.8" fill="none" stroke="#1e2d7d" stroke-width="0.7"/>
</g>
<text x="545.8" y="448.9" font-size="8.45" font-weight="bold" fill="#1f1f1f">警务室</text>
<g transform="translate(602.30 335.20) scale(0.9583)">
<rect x="0" y="0" width="12" height="12" fill="#1e2d7d"/>
<path d="M4.3 11.8L6 14.2L7.7 11.8Z" fill="#1e2d7d"/>
<path d="M2.4 11.6V2H6.2Q9.4 2 9.4 5Q9.4 8 6.2 8H4.6V11.6ZM4.6 3.9V6.1H6Q7.3 6.1 7.3 5Q7.3 3.9 6 3.9Z" fill="#fff"/>
<rect x="5.9" y="8.4" width="5" height="3" rx="0.6" fill="#fff"/><rect x="6.8" y="9" width="3.2" height="0.9" fill="#1e2d7d"/>
</g>
<text x="620.9" y="345.2" font-size="8.45" font-weight="bold" fill="#1f1f1f">停车场</text>
<g transform="translate(602.30 356.00) scale(0.9583)">
<rect x="0" y="0" width="12" height="12" fill="#2e9e78"/>
<path d="M4.3 11.8L6 14.2L7.7 11.8Z" fill="#2e9e78"/>
<path d="M2.7 7.8V2.4H4.8Q6.8 2.4 6.8 4.3Q6.8 6.2 4.8 6.2H3.4" fill="none" stroke="#fff" stroke-width="1.1"/>
<path d="M9.6 3.6L7.2 6.4L8.8 7.6L6.2 10.6M6.2 10.6L6.4 8.8M6.2 10.6L8 10.2" fill="none" stroke="#fff" stroke-width="0.9"/>
</g>
<text x="620.9" y="366.1" font-size="8.45" font-weight="bold" fill="#1f1f1f">地下停车场出入口</text>
<g transform="translate(602.30 377.90) scale(0.9583)">
<rect x="0" y="0" width="12" height="12" rx="0.5" fill="#e9984a"/>
<path d="M4.3 11.8L6 14.2L7.7 11.8Z" fill="#e9984a"/>
<path d="M6 10L2.6 6.4Q1.2 4.6 2.6 3.2Q4.3 2 6 4Q7.7 2 9.4 3.2Q10.8 4.6 9.4 6.4Z" fill="none" stroke="#fff" stroke-width="0.9"/><path d="M8.6 4.6L6.4 7.2" stroke="#fff" stroke-width="0.7" fill="none"/>
</g>
<text x="620.9" y="387.3" font-size="8.45" font-weight="bold" fill="#1f1f1f">一站式服务中心</text>
<g transform="translate(602.30 398.40) scale(0.9583)">
<rect x="0" y="0" width="12" height="12" rx="0.8" fill="#4fbcc6"/>
<path d="M4.3 11.8L6 14.2L7.7 11.8Z" fill="#4fbcc6"/>
<circle cx="6" cy="5.6" r="3.7" fill="none" stroke="#fff" stroke-width="0.9"/><path d="M4 8.6L3.2 10.6L5.4 9.4" fill="none" stroke="#fff" stroke-width="0.8"/><circle cx="4.4" cy="5.6" r="0.4" fill="#fff"/><circle cx="6" cy="5.6" r="0.4" fill="#fff"/><circle cx="7.6" cy="5.6" r="0.4" fill="#fff"/>
</g>
<text x="620.9" y="407.9" font-size="8.45" font-weight="bold" fill="#1f1f1f">问讯处</text>
<g transform="translate(602.30 418.20) scale(0.9583)">
<rect x="0" y="0" width="12" height="12" rx="0.5" fill="#c8232c"/>
<path d="M4.3 11.8L6 14.2L7.7 11.8Z" fill="#c8232c"/>
<circle cx="6" cy="6" r="4.3" fill="none" stroke="#fff" stroke-width="0.8"/><path d="M6 3V9M3 6H9" stroke="#fff" stroke-width="2" fill="none"/>
</g>
<text x="620.9" y="428.5" font-size="8.45" font-weight="bold" fill="#1f1f1f">医疗室</text>
<text x="381.6" y="38.4" font-size="24.5" font-weight="bold" fill="#6b6b6b" text-anchor="middle">第二十届中国西部国际博览会总平面图</text>
</svg>
</body></html>
